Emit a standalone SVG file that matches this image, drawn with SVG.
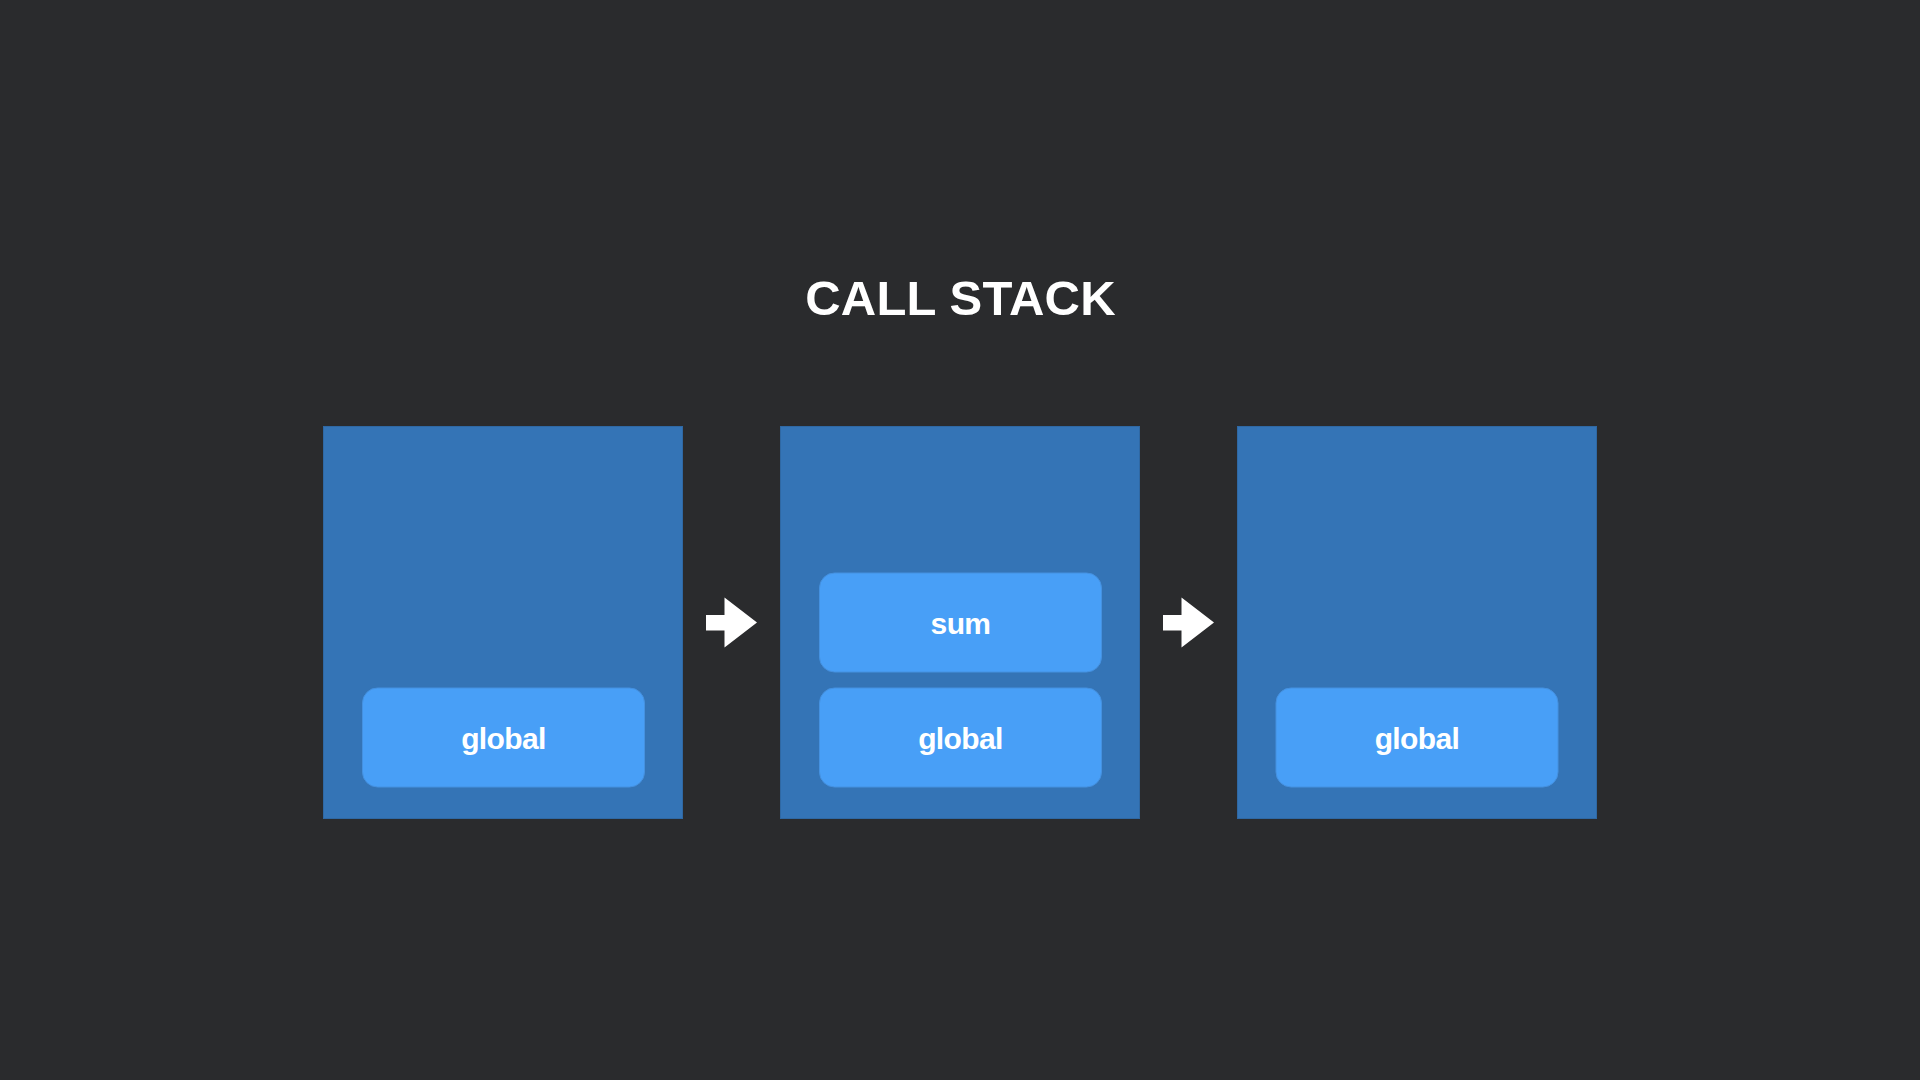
<svg xmlns="http://www.w3.org/2000/svg" width="1920" height="1080" viewBox="0 0 1920 1080">
<style>
.stack{fill:#3474b6;stroke:#2f68a3;stroke-width:1}
.frame{fill:#489ff7;stroke:#4591e0;stroke-width:1}
.lbl{font-family:"Liberation Sans",Arial,sans-serif;font-weight:bold;font-size:30px;letter-spacing:-0.6px;fill:#ffffff;text-anchor:middle}
.title{font-family:"Liberation Sans",Arial,sans-serif;font-weight:bold;font-size:49px;letter-spacing:0.2px;fill:#ffffff;text-anchor:middle}
.arrow{fill:#ffffff}
</style>
<rect width="1920" height="1080" fill="#2a2b2d"/>
<text class="title" x="960.5" y="315">CALL STACK</text>
<g id="stack1">
<rect class="stack" x="323.5" y="426.5" width="359" height="392"/>
<g id="stack1-global">
<rect class="frame" x="362.5" y="688" width="282" height="99" rx="15"/>
<text class="lbl" x="503.5" y="749">global</text>
</g>
</g>
<g id="stack2">
<rect class="stack" x="780.5" y="426.5" width="359" height="392"/>
<g id="stack2-sum">
<rect class="frame" x="819.5" y="573" width="282" height="99" rx="15"/>
<text class="lbl" x="960.5" y="634">sum</text>
</g>
<g id="stack2-global">
<rect class="frame" x="819.5" y="688" width="282" height="99" rx="15"/>
<text class="lbl" x="960.5" y="749">global</text>
</g>
</g>
<g id="stack3">
<rect class="stack" x="1237.5" y="426.5" width="359" height="392"/>
<g id="stack3-global">
<rect class="frame" x="1276" y="688" width="282" height="99" rx="15"/>
<text class="lbl" x="1417" y="749">global</text>
</g>
</g>
<g id="connectors">
<path class="arrow" d="M706,615 H724.5 V597.5 L757,622.5 L724.5,647.5 V630.5 H706 Z"/>
<path class="arrow" d="M1163,615 H1181.5 V597.5 L1214,622.5 L1181.5,647.5 V630.5 H1163 Z"/>
</g>
</svg>
